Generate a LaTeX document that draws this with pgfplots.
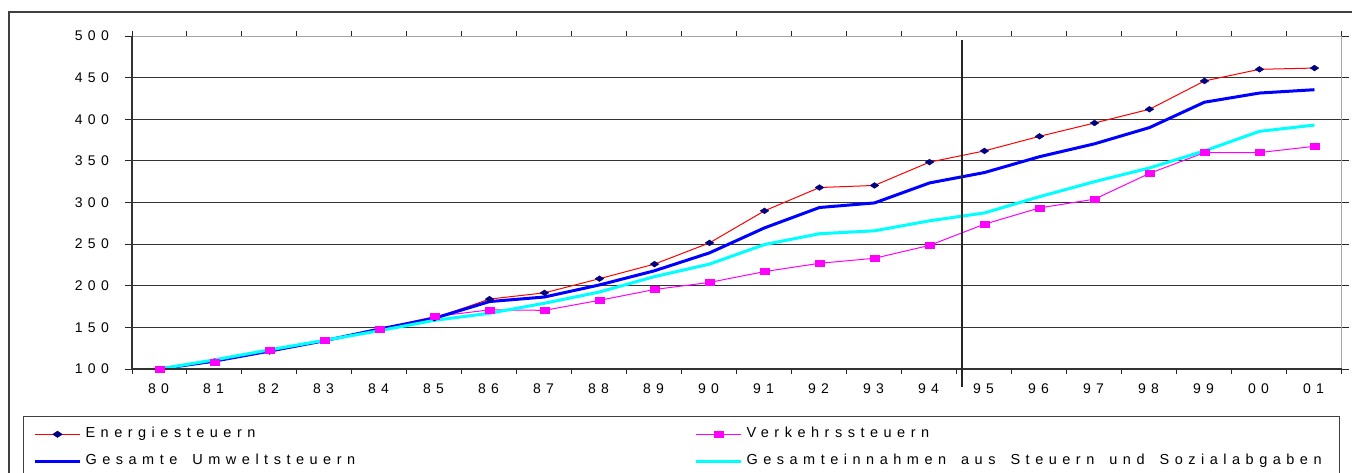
\documentclass[border=0pt]{standalone}
\usepackage{pgfplots}
\usepackage{pgfplotstable}
\pgfplotsset{compat=1.18}
\usepackage{fontspec}
\setmainfont{Liberation Sans}[LetterSpace=38]

\definecolor{energie}{HTML}{FF0000}
\definecolor{navymark}{HTML}{000080}
\definecolor{verkehr}{HTML}{FF00FF}
\definecolor{umwelt}{HTML}{0000FF}
\definecolor{gesamt}{HTML}{00FFFF}

% legend text: wider word spaces
\newcommand{\legendtext}[2]{\makebox[#1][l]{\fontsize{14.5}{17}\selectfont\spaceskip=15pt plus 1pt\relax #2}}

% Index 1980 = 100
\pgfplotstableread{
idx energie verkehr umwelt gesamt
0  100   100   100   100
1  109   108.5 109.5 111
2  121   123   121.5 123
3  134   135   134   134.5
4  147   148   148   146
5  161   163   161   158.5
6  184   171   181   167
7  191.5 170.5 186.5 179
8  208.5 182.5 201   192.5
9  226   195.5 218   211
10 251.5 204   239.5 226
11 290   217   269.5 249.5
12 318   227   294   262.5
13 320.5 233   299.5 266
14 348.5 248.5 323.5 278
15 362   274   336   287.5
16 379.5 293.5 355   307
17 395.5 304   370.5 325
18 412   335   390   341.5
19 446   360   420.5 362
20 460   360   431.5 385.5
21 461.5 367.5 435.5 393
}\data

\begin{document}
\begin{tikzpicture}
\useasboundingbox (0pt,0pt) rectangle (1352pt,-472pt);
\clip (0pt,0pt) rectangle (1352pt,-472pt);
% outer chart frame
\draw[black!75, line width=1.2pt] (9pt,-12pt) rectangle (1420pt,-540pt);
\begin{axis}[
  at={(132pt,-369pt)}, anchor=south west,
  scale only axis, width=1210pt, height=333pt,
  xmin=-0.5, xmax=21.5, ymin=100, ymax=500,
  xtick={0,...,21},
  xticklabels={80,81,82,83,84,85,86,87,88,89,90,91,92,93,94,95,96,97,98,99,00,01},
  minor xtick={-0.5,0.5,...,21.5},
  ytick={100,150,...,500},
  tick align=outside,
  major tick length=7pt, minor tick length=5pt,
  major x tick style={draw=none},
  tick style={black!85, line width=1pt},
  ymajorgrids, major grid style={black!80, line width=0.9pt},
  axis line style={draw=black!35, line width=1pt},
  tick label style={font=\fontsize{14}{16}\selectfont, inner sep=0pt},
  /pgf/number format/assume math mode=true,
  yticklabel style={anchor=east, xshift=-16pt},
  xticklabel style={anchor=north, yshift=-8pt, xshift=-1pt},
  clip=false,
  legend columns=2,
  legend cell align=left,
  legend image code/.code={\draw[mark repeat=2,mark phase=2,#1] plot coordinates {(0pt,0pt) (22.5pt,0pt) (45pt,0pt)};},
  legend style={
    at={(axis description cs:-0.09008,-0.14114)}, anchor=north west,
    draw=black!75, line width=1pt,
    inner xsep=10pt, inner ysep=4.3pt,
    font=\fontsize{14.5}{17}\selectfont,
    nodes={inner sep=0pt, text height=17pt, text depth=10pt},
    /tikz/every odd column/.append style={column sep=4pt},
    /tikz/every even column/.append style={column sep=0pt},
  },
]
\addlegendimage{energie, line width=1pt, mark=diamond*, mark size=2.9pt, mark options={fill=navymark, draw=navymark, xscale=2}}
\addlegendentry{\legendtext{609pt}{Energiesteuern}}
\addlegendimage{verkehr, line width=1pt, mark=square*, mark size=3pt, mark options={fill=verkehr, draw=verkehr, xscale=1.5}}
\addlegendentry{\legendtext{583pt}{Verkehrssteuern}}
\addlegendimage{umwelt, line width=3pt}
\addlegendentry{\legendtext{609pt}{Gesamte Umweltsteuern}}
\addlegendimage{gesamt, line width=3pt}
\addlegendentry{\legendtext{583pt}{Gesamteinnahmen aus Steuern und Sozialabgaben}}

\addplot[energie, line width=1pt, forget plot] table[x=idx, y=energie] {\data};
\addplot[verkehr, line width=1pt, forget plot] table[x=idx, y=verkehr] {\data};
\addplot[umwelt, line width=3pt, forget plot] table[x=idx, y=umwelt] {\data};
\addplot[gesamt, line width=3pt, forget plot] table[x=idx, y=gesamt] {\data};
\addplot[only marks, mark=diamond*, mark size=2.9pt, mark options={fill=navymark, draw=navymark, xscale=2}, forget plot] table[x=idx, y=energie] {\data};
\addplot[only marks, mark=square*, mark size=3pt, mark options={fill=verkehr, draw=verkehr, xscale=1.5}, forget plot] table[x=idx, y=verkehr] {\data};

% left and bottom axis lines
\draw[black!80, line width=1.3pt] (rel axis cs:0,1) -- (rel axis cs:0,0) -- (rel axis cs:1,0);
% separator between 1994 and 1995
\draw[black!85, line width=1.3pt] (axis cs:14.59,495) -- (axis cs:14.59,78.5);
\end{axis}
\end{tikzpicture}
\end{document}
